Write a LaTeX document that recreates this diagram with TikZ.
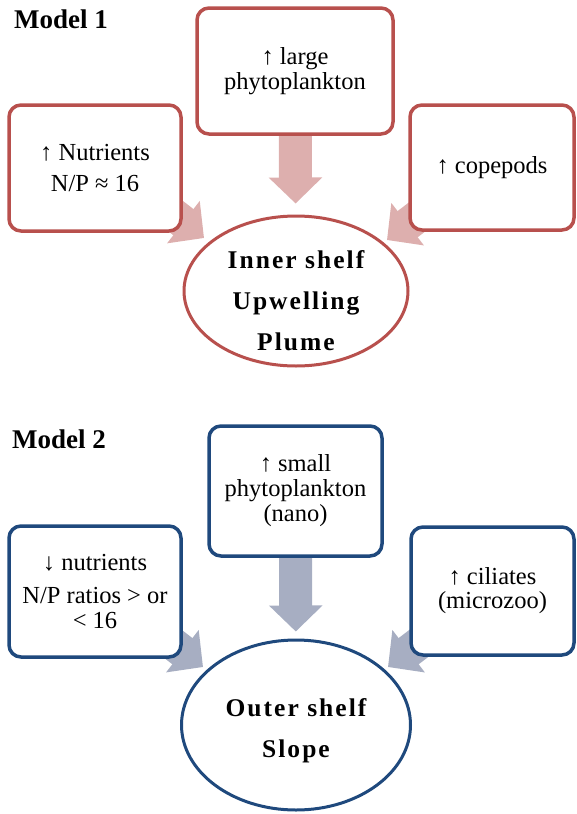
\documentclass[tikz,border=0pt]{standalone}
\usepackage{fontspec}
\setmainfont{Liberation Serif}
\newfontfamily\hubfont[LetterSpace=8]{Liberation Serif}
\usetikzlibrary{arrows.meta,shapes.geometric,backgrounds}

\definecolor{redline}{RGB}{184,80,77}
\definecolor{redfill}{RGB}{221,175,174}
\definecolor{blueline}{RGB}{31,73,125}
\definecolor{bluefill}{RGB}{167,174,194}

\tikzset{
  box/.style={draw=#1,rounded corners=12pt,line width=3.5pt,fill=white,inner sep=0pt,
    align=center,font=\fontsize{24.5}{25}\selectfont},
  hub/.style={draw=#1,ellipse,line width=3pt,fill=white,inner sep=0pt},
  hubtext/.style={align=center,font=\fontsize{25.5}{41}\selectfont\hubfont\bfseries},
  fat/.style={draw=#1,line width=33pt,-{Triangle[length=26pt,width=52pt]}},
  title/.style={anchor=base west,inner sep=0pt,font=\fontsize{27}{27}\selectfont\bfseries}
}

\begin{document}
\begin{tikzpicture}[x=1pt,y=-1pt]
    \useasboundingbox (0,0) rectangle (576,814);

    % model 1
    \node[title] (model1) at (14,28) {Model 1};
    \node[box=redline,minimum width=196pt,minimum height=126pt] (large) at (295,71)
        {↑ large\\phytoplankton};
    \node[box=redline,minimum width=172pt,minimum height=126pt] (nutr1) at (95,168)
        {↑ Nutrients\\[6pt]N/P ≈ 16};
    \node[box=redline,minimum width=164pt,minimum height=125pt] (cope) at (492,167.5)
        {↑ copepods};
    \node[hub=redline,minimum width=224pt,minimum height=150pt] (plume) at (296,291) {};
    \node[hubtext] (plumetxt) at (296,301) {Inner shelf\\Upwelling\\Plume};
    \coordinate (in1) at (204,238);
    \coordinate (in2) at (387,240);

    % model 2
    \node[title] (model2) at (12,448) {Model 2};
    \node[box=blueline,minimum width=173pt,minimum height=130pt] (small) at (295.5,491)
        {↑ small\\phytoplankton\\(nano)};
    \node[box=blueline,minimum width=172pt,minimum height=131pt] (nutr2) at (95,591.5)
        {↓ nutrients\\[8pt]N/P ratios > or\\< 16};
    \node[box=blueline,minimum width=163pt,minimum height=128pt,
        font=\fontsize{24.5}{24}\selectfont] (cil) at (492.5,591)
        {↑ ciliates\\(microzoo)};
    \node[hub=blueline,minimum width=229pt,minimum height=170pt] (slope) at (296,725) {};
    \node[hubtext] (slopetxt) at (296,731) {Outer shelf\\Slope};
    \coordinate (in3) at (203,667);
    \coordinate (in4) at (388,667);

    % block arrows go under the boxes
    \begin{pgfonlayer}{background}
    \draw[fat=redfill,shorten <=-5pt,shorten >=11pt] (large) -- (plume);
    \draw[fat=redfill] ([yshift=14pt]nutr1.center) -- (in1);
    \draw[fat=redfill] ([yshift=8pt]cope.center) -- (in2);
    \draw[fat=bluefill,shorten <=-5pt,shorten >=7pt] (small) -- (slope);
    \draw[fat=bluefill] ([yshift=7.5pt]nutr2.center) -- (in3);
    \draw[fat=bluefill] ([yshift=4pt]cil.center) -- (in4);
    \end{pgfonlayer}
\end{tikzpicture}
\end{document}
